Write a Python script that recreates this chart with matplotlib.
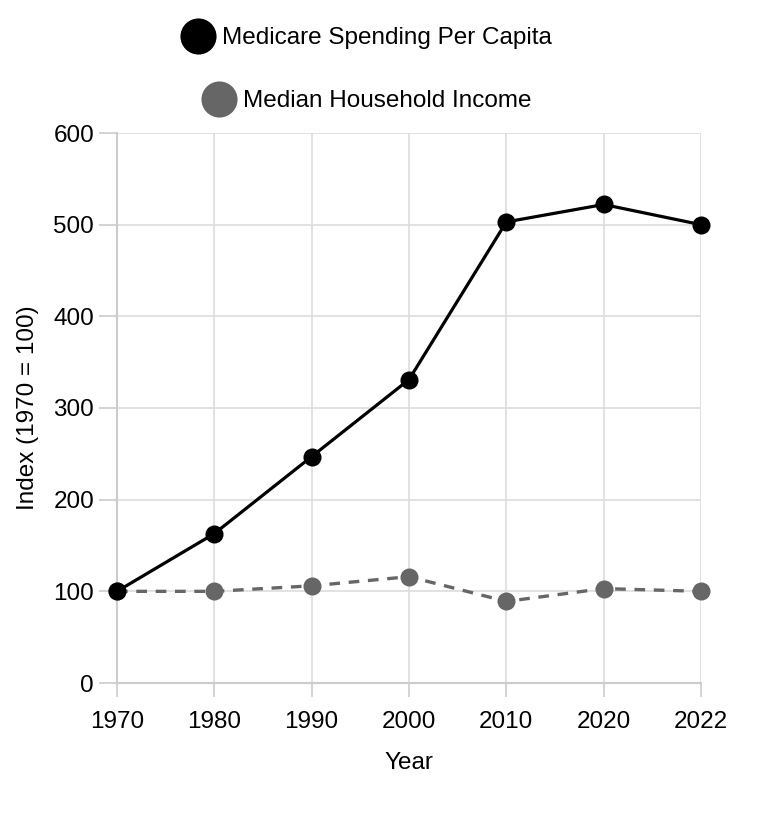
import matplotlib.pyplot as plt
from matplotlib.lines import Line2D

plt.rcParams["font.family"] = ["Liberation Sans", "DejaVu Sans"]

# data
years = ["1970", "1980", "1990", "2000", "2010", "2020", "2022"]
medicare = [100, 163, 247, 331, 503, 522, 500]
income = [100, 100, 106, 116, 89, 103, 100]

black = "#000000"
gray = "#666666"
fs = 17.5

fig = plt.figure(figsize=(7.62, 8.36), dpi=100)
ax = fig.add_axes([117 / 762, 153 / 836, 584 / 762, 550 / 836])

x = list(range(len(years)))
ax.plot(x, income, color=gray, linewidth=2.4, linestyle=(0, (3.2, 2.6)),
        marker="o", markersize=13, markeredgewidth=0, zorder=3, clip_on=False)
ax.plot(x, medicare, color=black, linewidth=2.3,
        marker="o", markersize=13, markeredgewidth=0, zorder=4, clip_on=False)

ax.set_xlim(0, len(years) - 1)
ax.set_ylim(0, 600)
ax.set_xticks(x)
ax.set_xticklabels(years)
ax.set_yticks(range(0, 601, 100))
ax.grid(True, color="#dddddd", linewidth=1.2, zorder=0)
ax.set_axisbelow(True)

for side in ["top", "right"]:
    ax.spines[side].set_visible(False)
for side in ["left", "bottom"]:
    ax.spines[side].set_color("#cccccc")
    ax.spines[side].set_linewidth(1.5)
ax.tick_params(axis="both", colors="#cccccc", width=1.2,
               labelsize=fs, labelcolor="#000000")
ax.tick_params(axis="x", length=10, pad=10)
ax.tick_params(axis="y", length=13, pad=3.5)

ax.set_xlabel("Year", fontsize=fs, labelpad=14)
ax.set_ylabel("Index (1970 = 100)", fontsize=fs, labelpad=10)

# legend, one row per series, each centred
entries = [("Medicare Spending Per Capita", black, 38 / 836),
           ("Median Household Income", gray, 101 / 836)]
for label, color, ytop in entries:
    h = Line2D([], [], linestyle="none", marker="o", markersize=26,
               markerfacecolor=color, markeredgewidth=0)
    fig.legend([h], [label], loc="center", bbox_to_anchor=(366 / 762, 1 - ytop),
               frameon=False, fontsize=fs, handlelength=1.5, handletextpad=0.25,
               borderpad=0, borderaxespad=0)

fig.savefig("out.png", dpi=100)
